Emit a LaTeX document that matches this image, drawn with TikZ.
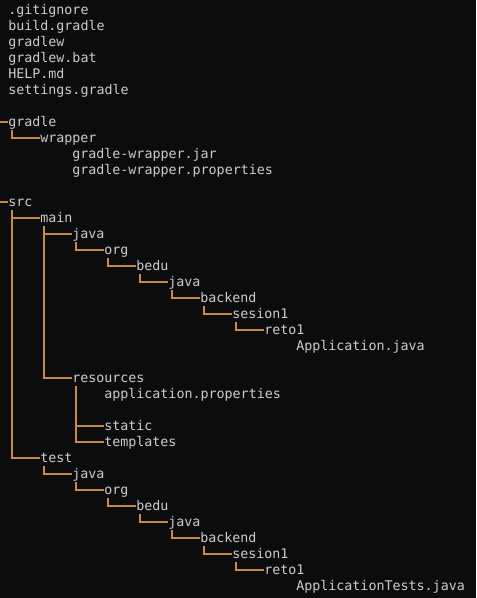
\documentclass[tikz,border=0pt]{standalone}
\usepackage{fontspec}
\setmonofont{DejaVu Sans Mono}
\usetikzlibrary{positioning}
\definecolor{termbg}{HTML}{0C0C0C}
\definecolor{termfg}{HTML}{CCCCCC}
\definecolor{treeline}{HTML}{C98A45}

\begin{document}
\begin{tikzpicture}[
    x=0.75pt, y=-0.75pt,
    font=\ttfamily\fontsize{10}{12}\selectfont,
    entry/.style={anchor=west, inner sep=0pt, text height=9pt, text depth=2.25pt, text=termfg},
    branch/.style={draw=treeline, line width=0.8pt},
]
  \fill[termbg] (0,0) rectangle (476,598);
  \useasboundingbox (0,0) rectangle (476,598);
  \node[entry] (gitignore)   at (8,10)  {.gitignore};
  \node[entry] (buildgradle) at (8,26)  {build.gradle};
  \node[entry] (gradlew)     at (8,42)  {gradlew};
  \node[entry] (gradlewbat)  at (8,58)  {gradlew.bat};
  \node[entry] (helpmd)      at (8,74)  {HELP.md};
  \node[entry] (settings)    at (8,90)  {settings.gradle};
  \coordinate (gradlein) at (0,122);
  \node[entry] (gradle)    at (8,122)  {gradle};
  \node[entry] (wrapper)   at (40,138) {wrapper};
  \node[entry] (wrapjar)   at (72,154) {gradle-wrapper.jar};
  \node[entry] (wrapprops) at (72,170) {gradle-wrapper.properties};
  \coordinate (srcin) at (0,202);
  \node[entry] (src)      at (8,202)   {src};
  \node[entry] (main)     at (40,218)  {main};
  \node[entry] (mjava)    at (72,234)  {java};
  \node[entry] (morg)     at (104,250) {org};
  \node[entry] (mbedu)    at (136,266) {bedu};
  \node[entry] (mjavab)   at (168,282) {java};
  \node[entry] (mbackend) at (200,298) {backend};
  \node[entry] (msesion)  at (232,314) {sesion1};
  \node[entry] (mreto)    at (264,330) {reto1};
  \node[entry] (mapp)     at (296,346) {Application.java};
  \node[entry] (resources) at (72,378)  {resources};
  \node[entry] (appprops)  at (104,394) {application.properties};
  \node[entry] (static)    at (104,426) {static};
  \node[entry] (templates) at (104,442) {templates};
  \node[entry] (test)     at (40,458)  {test};
  \node[entry] (tjava)    at (72,474)  {java};
  \node[entry] (torg)     at (104,490) {org};
  \node[entry] (tbedu)    at (136,506) {bedu};
  \node[entry] (tjavab)   at (168,522) {java};
  \node[entry] (tbackend) at (200,538) {backend};
  \node[entry] (tsesion)  at (232,554) {sesion1};
  \node[entry] (treto)    at (264,570) {reto1};
  \node[entry] (tapp)     at (296,586) {ApplicationTests.java};
  \draw[branch] (gradlein) -- (gradle.west);
  \draw[branch] ([xshift=3pt]gradle.south west) |- (wrapper.west);
  \draw[branch] (srcin) -- (src.west);
  \draw[branch] ([xshift=3pt]src.south west) |- (main.west);
  \draw[branch] ([xshift=3pt]src.south west) |- (test.west);
  \draw[branch] ([xshift=3pt]main.south west) |- (mjava.west);
  \draw[branch] ([xshift=3pt]main.south west) |- (resources.west);
  \draw[branch] ([xshift=3pt]mjava.south west) |- (morg.west);
  \draw[branch] ([xshift=3pt]morg.south west) |- (mbedu.west);
  \draw[branch] ([xshift=3pt]mbedu.south west) |- (mjavab.west);
  \draw[branch] ([xshift=3pt]mjavab.south west) |- (mbackend.west);
  \draw[branch] ([xshift=3pt]mbackend.south west) |- (msesion.west);
  \draw[branch] ([xshift=3pt]msesion.south west) |- (mreto.west);
  \draw[branch] ([xshift=3pt]resources.south west) |- (static.west);
  \draw[branch] ([xshift=3pt]resources.south west) |- (templates.west);
  \draw[branch] ([xshift=3pt]test.south west) |- (tjava.west);
  \draw[branch] ([xshift=3pt]tjava.south west) |- (torg.west);
  \draw[branch] ([xshift=3pt]torg.south west) |- (tbedu.west);
  \draw[branch] ([xshift=3pt]tbedu.south west) |- (tjavab.west);
  \draw[branch] ([xshift=3pt]tjavab.south west) |- (tbackend.west);
  \draw[branch] ([xshift=3pt]tbackend.south west) |- (tsesion.west);
  \draw[branch] ([xshift=3pt]tsesion.south west) |- (treto.west);
\end{tikzpicture}
\end{document}
